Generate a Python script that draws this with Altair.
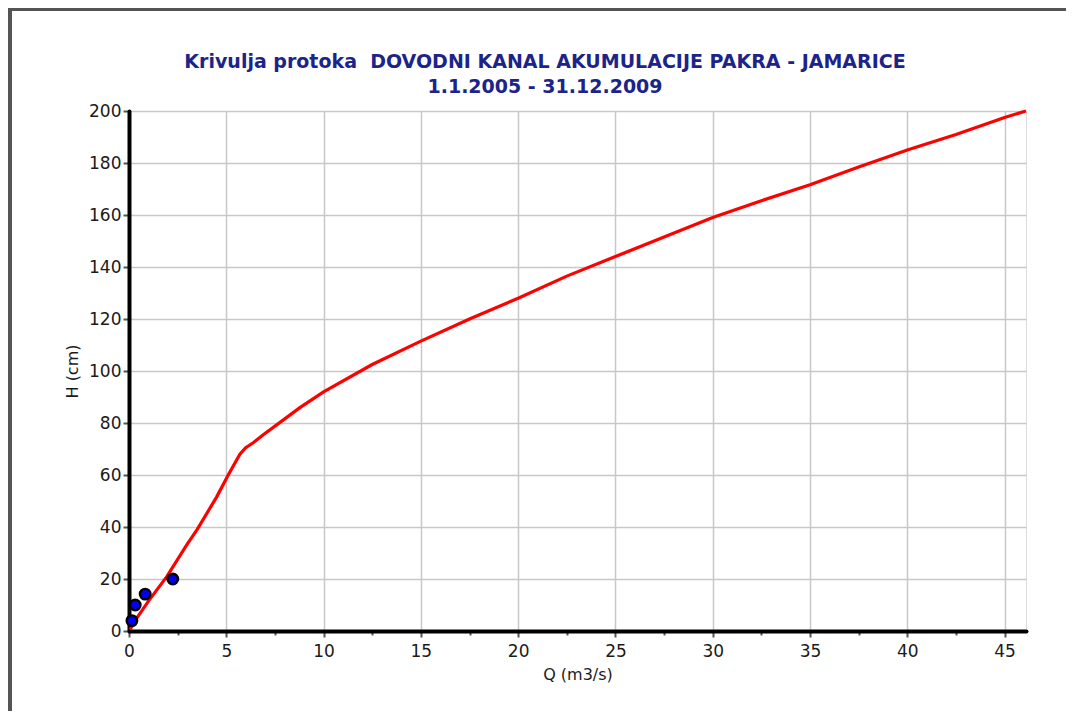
import altair as alt
import pandas as pd

# Rating curve (Q in m3/s, H in cm)
curve_q = [0.05, 0.4, 1.0, 1.95, 3.0, 3.5, 4.5, 5.1, 5.7, 6.0, 6.4, 6.9, 7.9, 8.8, 10.0,
           12.5, 15.0, 17.5, 20.0, 22.5, 25.0, 27.5, 30.0, 32.5, 35.0, 37.5, 40.0,
           42.5, 45.0, 46.1]
curve_h = [0.5, 5.0, 11.5, 21.0, 33.5, 39.0, 51.5, 60.0, 68.0, 70.5, 72.5, 75.5, 81.0, 86.0, 92.0,
           102.5, 111.5, 120.0, 128.0, 136.5, 144.0, 151.5, 159.0, 165.5, 171.6, 178.5, 185.0,
           191.0, 197.5, 200.0]

# Measured points
meas_q = [0.15, 0.32, 0.83, 2.25]
meas_h = [4.0, 10.0, 14.2, 20.0]

x_ticks = [i * 1.25 for i in range(0, 37)]   # labelled every 5
y_ticks = [i * 5 for i in range(0, 41)]      # labelled every 20

title_line1 = "Krivulja protoka \u00a0DOVODNI KANAL AKUMULACIJE PAKRA - JAMARICE"
title_line2 = "1.1.2005 - 31.12.2009"

curve_df = pd.DataFrame({"Q": curve_q, "H": curve_h})
meas_df = pd.DataFrame({"Q": meas_q, "H": meas_h})

XDOM = [0, 46.1]
YDOM = [0, 200]
FONT = "DejaVu Sans"

xscale = alt.Scale(domain=XDOM, nice=False, zero=False)
yscale = alt.Scale(domain=YDOM, nice=False, zero=False)

XMAJ = "datum.value % 5 === 0"
YMAJ = "datum.value % 20 === 0"


def axis(values, title, major, title_pad, label_pad):
    return alt.Axis(
        values=values, title=title, grid=True,
        gridColor="#c8c8c8", gridWidth=1.5,
        gridOpacity={"condition": {"test": major, "value": 1}, "value": 0},
        domainColor="black", domainWidth=4, domainCap="round",
        tickColor="#555", tickWidth=2,
        tickSize={"condition": {"test": major, "value": 6}, "value": 4},
        labelExpr=f"({major}) ? datum.label : ''",
        labelPadding=label_pad, labelFont=FONT, labelFontSize=17, labelColor="#1a1a1a",
        titleFont=FONT, titleFontSize=16, titleFontWeight="normal",
        titleColor="#1a1a1a", titlePadding=title_pad, labelFlush=False,
        labelOverlap=False)


line = alt.Chart(curve_df).mark_line(color="#ff0000", strokeWidth=3.2).encode(
    x=alt.X("Q:Q", scale=xscale, axis=axis(x_ticks, "Q (m3/s)", XMAJ, 7, 6)),
    y=alt.Y("H:Q", scale=yscale, axis=axis(y_ticks, "H (cm)", YMAJ, 8, 2)),
)

pts = alt.Chart(meas_df).mark_circle(size=110, color="#0000ee", stroke="black",
                                     strokeWidth=2.4, opacity=1).encode(
    x=alt.X("Q:Q", scale=xscale),
    y=alt.Y("H:Q", scale=yscale),
)

title_style = dict(font=FONT, fontSize=19, fontWeight="bold", color="#1c248a",
                   align="center", baseline="middle")
t1 = alt.Chart(pd.DataFrame({"t": [title_line1]})).mark_text(**title_style).encode(
    text="t:N", x=alt.value(416), y=alt.value(-49))
t2 = alt.Chart(pd.DataFrame({"t": [title_line2]})).mark_text(**title_style).encode(
    text="t:N", x=alt.value(416), y=alt.value(-24))

frame_top = alt.Chart(curve_df).mark_rule(color="#555", strokeWidth=2.5).encode(
    x=alt.value(-120), x2=alt.value(1060), y=alt.value(-102))
frame_left = alt.Chart(curve_df).mark_rule(color="#555", strokeWidth=2.5).encode(
    x=alt.value(-119), y=alt.value(-103), y2=alt.value(700))

chart = alt.layer(line, pts, t1, t2, frame_top, frame_left).properties(
    width=897, height=520,
    padding={"left": 121, "top": 103, "right": 40, "bottom": 80},
    autosize=alt.AutoSizeParams(type="none"),
).configure_view(stroke=None).configure(background="white")

chart.save("out.html", embed_options={"renderer": "svg", "actions": False})
